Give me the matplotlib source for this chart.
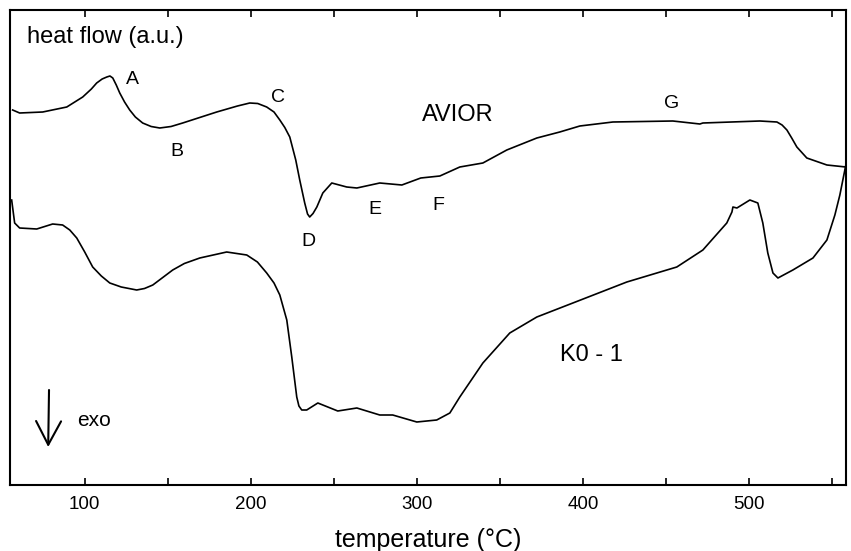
"""
DSC traces of AVIOR and K0-1 samples, heat flow vs temperature
"""

import matplotlib
matplotlib.use('Agg')
import matplotlib.pyplot as plt
from matplotlib.ticker import MultipleLocator

plt.rcParams['font.family'] = ['Liberation Sans', 'DejaVu Sans']

# AVIOR trace (temperature in C, heat flow in a.u.)
avior_temp = [56.6, 60.8, 74.7, 89.2, 98.8, 104.0, 107.2, 110.5, 113.3, 115.2,
              116.9, 119.0, 121.1, 124.0, 127.1, 130.5, 134.9, 140.0, 145.2, 152.0,
              159.0, 179.5, 192.0, 199.4, 204.2, 209.6, 214.0, 217.5, 220.5, 223.5,
              227.1, 229.5, 232.5, 234.2, 235.5, 237.5, 239.8, 243.4, 248.8, 257.8,
              263.9, 277.7, 291.0, 302.4, 313.9, 325.9, 339.8, 354.2, 372.3, 386.1,
              398.2, 418.1, 454.2, 470.5, 472.3, 506.6, 516.9, 520.0, 522.9, 525.8,
              528.9, 534.9, 547.0, 558.4]
avior_hf = [75.0, 74.4, 74.6, 75.6, 77.6, 79.2, 80.4, 81.2, 81.6, 81.8,
            81.4, 80.0, 78.4, 76.6, 75.0, 73.6, 72.4, 71.7, 71.4, 71.7,
            72.4, 74.6, 75.8, 76.4, 76.3, 75.6, 74.6, 73.0, 71.5, 69.6,
            65.0, 61.0, 56.4, 54.2, 53.6, 54.3, 55.6, 58.4, 60.4, 59.6,
            59.4, 60.4, 60.0, 61.4, 61.8, 63.6, 64.4, 67.0, 69.4, 70.6,
            71.8, 72.6, 72.8, 72.2, 72.4, 72.8, 72.6, 72.0, 71.0, 69.4,
            67.6, 65.4, 64.0, 63.6]

# K0-1 trace
k01_temp = [56.0, 57.8, 60.8, 71.1, 80.7, 86.7, 91.0, 95.2, 100.0, 104.8,
            110.0, 115.1, 122.0, 131.3, 136.0, 141.0, 147.0, 153.0, 160.0, 169.3,
            185.5, 197.6, 204.0, 209.6, 214.0, 217.5, 221.7, 224.7, 227.7, 229.0,
            230.7, 233.7, 240.4, 252.4, 263.9, 277.7, 285.5, 300.0, 312.0, 319.9,
            325.9, 339.8, 356.0, 372.3, 394.0, 426.5, 456.6, 472.3, 486.7, 489.8,
            490.4, 492.8, 500.6, 505.4, 508.4, 511.4, 514.5, 517.5, 526.5, 538.6,
            547.0, 551.8, 554.8, 556.6, 558.4]
k01_hf = [57.0, 52.4, 51.4, 51.2, 52.2, 52.0, 51.0, 49.4, 46.6, 43.6,
          41.8, 40.4, 39.6, 39.0, 39.3, 40.0, 41.5, 43.0, 44.3, 45.4,
          46.6, 46.0, 44.6, 42.4, 40.4, 38.0, 33.0, 25.6, 17.6, 15.8,
          15.0, 15.0, 16.4, 14.8, 15.4, 14.0, 14.0, 12.6, 13.0, 14.4,
          17.6, 24.4, 30.4, 33.6, 36.4, 40.6, 43.6, 47.0, 52.4, 54.6,
          55.6, 55.4, 57.0, 56.4, 52.4, 46.4, 42.4, 41.4, 43.0, 45.4,
          49.0, 54.0, 58.0, 61.0, 64.0]

# peak labels
peak_labels = ['A', 'B', 'C', 'D', 'E', 'F', 'G']
peak_temp = [128.9, 155.4, 216.3, 234.9, 274.7, 312.7, 453.6]
peak_hf = [81.2, 66.6, 77.4, 48.6, 55.0, 56.0, 76.4]

fig = plt.figure(figsize=(8.51, 5.51), dpi=100)
ax = fig.add_axes([10 / 851, 66 / 551, 836 / 851, 475 / 551])

ax.plot(avior_temp, avior_hf, color='black', lw=1.2)
ax.plot(k01_temp, k01_hf, color='black', lw=1.2)

for lab, t, h in zip(peak_labels, peak_temp, peak_hf):
    ax.text(t, h, lab, fontsize=14, ha='center', va='center')

ax.text(324.7, 74.0, 'AVIOR', fontsize=17, ha='center', va='center')
ax.text(405.4, 26.0, 'K0 - 1', fontsize=17, ha='center', va='center')
ax.text(65.1, 89.6, 'heat flow (a.u.)', fontsize=17, ha='left', va='center')
ax.text(95.5, 12.8, 'exo', fontsize=15, ha='left', va='center')

# exo arrow
ax.annotate('', xy=(78.0, 7.6), xytext=(78.5, 19.0),
            arrowprops=dict(arrowstyle='->,head_length=0.85,head_width=0.45',
                            lw=1.5, color='black', mutation_scale=20,
                            shrinkA=0, shrinkB=0))

ax.set_xlim(55, 558.5)
ax.set_ylim(0, 95)
ax.xaxis.set_major_locator(MultipleLocator(100))
ax.xaxis.set_minor_locator(MultipleLocator(50))
ax.tick_params(axis='x', which='both', direction='in', top=True, bottom=True,
               length=5, width=1.2, labelsize=13.5, pad=8)
ax.set_yticks([])
for sp in ax.spines.values():
    sp.set_linewidth(1.5)

ax.set_xlabel('temperature (°C)', fontsize=18, labelpad=11)

plt.savefig('out.png', dpi=100)
